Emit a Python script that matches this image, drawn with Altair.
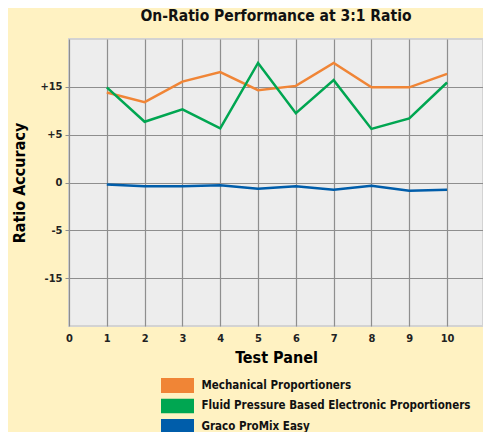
import altair as alt
import pandas as pd

panels = [1, 2, 3, 4, 5, 6, 7, 8, 9, 10]
series_names = [
    "Mechanical Proportioners",
    "Fluid Pressure Based Electronic Proportioners",
    "Graco ProMix Easy",
]
series_colors = ["#F08536", "#00A651", "#005DAA"]
# values in grid-row units (0 = "0" line, 1 = "+5", 2 = "+15", -1 = "-5", -2 = "-15")
mechanical = [1.88, 1.68, 2.11, 2.31, 1.93, 2.02, 2.50, 1.99, 1.99, 2.27]
fluid = [1.99, 1.27, 1.53, 1.13, 2.50, 1.45, 2.14, 1.12, 1.34, 2.09]
promix = [-0.04, -0.08, -0.08, -0.06, -0.13, -0.08, -0.15, -0.07, -0.17, -0.15]

y_tick_values = [-2, -1, 0, 1, 2]
y_tick_labels = ["-15", "-5", "0", "+5", "+15"]
x_tick_values = [0, 1, 2, 3, 4, 5, 6, 7, 8, 9, 10]

rows = []
for name, vals in zip(series_names, [mechanical, fluid, promix]):
    for p, v in zip(panels, vals):
        rows.append({"panel": p, "value": v, "series": name})
df = pd.DataFrame(rows)

label_map = "{" + ",".join(f"'{v}':'{l}'" for v, l in zip(y_tick_values, y_tick_labels)) + "}"

FONT = "DejaVu Sans Condensed, Roboto, Liberation Sans, sans-serif"

chart = alt.Chart(df).mark_line(strokeWidth=2.5).encode(
    x=alt.X(
        "panel:Q",
        title="Test Panel",
        scale=alt.Scale(domain=[0, 10.95], nice=False, zero=False),
        axis=alt.Axis(
            values=x_tick_values, grid=True, domain=False, ticks=False,
            labelPadding=6, labelFlush=False, titlePadding=6,
        ),
    ),
    y=alt.Y(
        "value:Q",
        title="Ratio Accuracy",
        scale=alt.Scale(domain=[-3, 3], nice=False),
        axis=alt.Axis(
            values=y_tick_values, grid=True, domain=False, ticks=True, tickSize=4,
            labelPadding=3, labelExpr=f"{label_map}[datum.value]", titlePadding=12,
        ),
    ),
    color=alt.Color(
        "series:N",
        scale=alt.Scale(domain=series_names, range=series_colors),
        legend=alt.Legend(
            title=None, orient="none", legendX=83, legendY=339,
            symbolType="stroke", symbolSize=1089, symbolStrokeWidth=15,
            symbolOpacity=1, clipHeight=15, rowPadding=5.5, symbolOffset=1.5,
            labelFont=FONT, labelFontSize=11.5, labelFontWeight="bold", labelColor="#111",
            labelOffset=0, labelLimit=400,
        ),
    ),
    order="panel:Q",
).properties(
    width=414,
    height=287,
    title=alt.TitleParams("On-Ratio Performance at 3:1 Ratio", font=FONT, fontSize=15.5,
                          fontWeight="bold", color="#111", offset=15),
    autosize=alt.AutoSizeParams(type="none"),
    padding={"left": 61, "top": 31, "right": 0, "bottom": 106},
    background="#FFF2C2",
).configure_view(
    fill="#EDEDED", stroke="#D3D3D3", strokeWidth=2,
).configure_axis(
    gridColor="#8E8E8E", gridWidth=1.2, gridOpacity=1, tickColor="#8E8E8E",
    labelFont=FONT, labelFontSize=11, labelFontWeight="bold", labelColor="#222",
    titleFont=FONT, titleFontSize=16, titleFontWeight="bold", titleColor="#000",
)

chart.save("out.html", embed_options={"renderer": "svg", "actions": False})
